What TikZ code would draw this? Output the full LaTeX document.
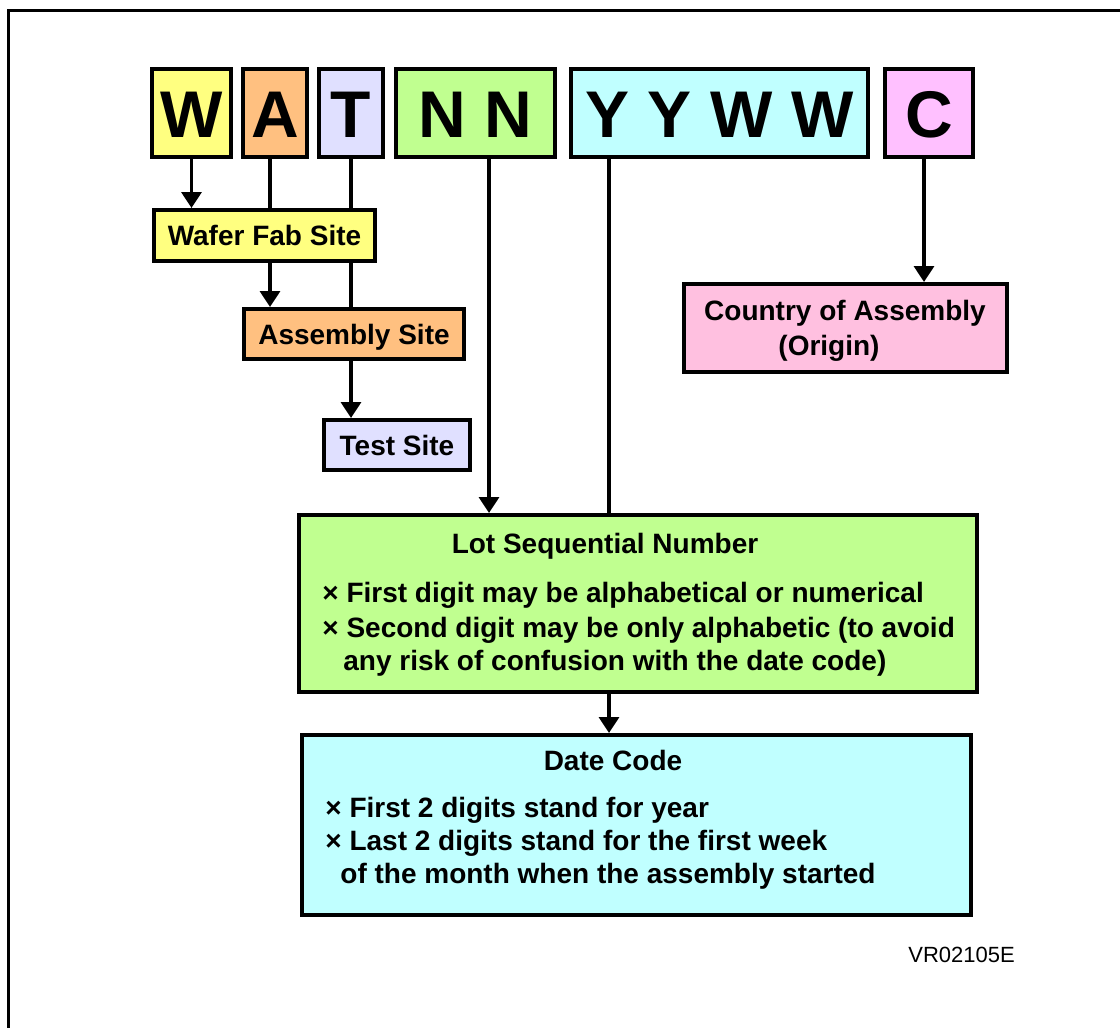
\documentclass[tikz,border=0pt]{standalone}
\usepackage{fontspec}
\setmainfont{Liberation Sans}
\usetikzlibrary{arrows.meta,backgrounds}

\definecolor{waferyellow}{RGB}{255,255,128}
\definecolor{assemorange}{RGB}{255,192,128}
\definecolor{testlilac}{RGB}{224,224,255}
\definecolor{lotgreen}{RGB}{192,255,144}
\definecolor{datecyan}{RGB}{192,255,255}
\definecolor{codepink}{RGB}{255,192,255}
\definecolor{originpink}{RGB}{255,192,224}

\tikzset{
  codebox/.style={draw, line width=2pt, inner sep=0pt, minimum height=44pt,
    text height=24pt, text depth=0pt, font=\fontsize{33}{37}\selectfont\bfseries},
  sitebox/.style={draw, line width=2pt, inner sep=0pt,
    text height=10pt, text depth=0pt, font=\fontsize{14}{17}\selectfont\bfseries},
  infobox/.style={draw, line width=2pt, inner sep=0pt},
  infotext/.style={inner sep=0pt, font=\fontsize{14}{17}\selectfont\bfseries},
  feed/.style={line width=1.7pt},
  feedarrow/.style={feed, -{Triangle[length=8pt,width=10pt]}}
}

\begin{document}
\begin{tikzpicture}[x=0.5pt, y=-0.5pt]
  \useasboundingbox (0,0) rectangle (1120,1028);

  % Frame
  \draw[line width=1.5pt] (8,1028) -- (8,10) -- (1120,10);

  % Marking code
  \node[codebox, fill=waferyellow, minimum width=39.5pt] (wcode) at (191.5,113) {W};
  \node[codebox, fill=assemorange, minimum width=32pt] (acode) at (275,113) {A};
  \node[codebox, fill=testlilac, minimum width=32pt] (tcode) at (351,113) {T};
  \node[codebox, fill=lotgreen, minimum width=79.5pt] (nncode) at (475.5,113) {N N};
  \node[codebox, fill=datecyan, minimum width=148.5pt] (yywwcode) at (719.5,113) {Y Y W W};
  \node[codebox, fill=codepink, minimum width=44pt] (ccode) at (929,113) {C};

  % Sites
  \node[sitebox, fill=waferyellow, minimum width=110.5pt, minimum height=25.5pt] (wafer) at (264.5,235.5) {Wafer Fab Site};
  \node[sitebox, fill=assemorange, minimum width=110pt, minimum height=25pt] (assembly) at (354,334) {Assembly Site};
  \node[sitebox, fill=testlilac, minimum width=73pt, minimum height=25pt] (test) at (397,445) {Test Site};

  % Country
  \node[infobox, fill=originpink, minimum width=161.5pt, minimum height=44pt] (country) at (845.5,328) {};
  \node[infotext, anchor=base] (countryA) at (845,320) {Country of Assembly};
  \node[infotext, anchor=base] (countryB) at (829,355) {(Origin)};

  % Lot number
  \node[infobox, fill=lotgreen, minimum width=339pt, minimum height=88.5pt] (lot) at (638,603.5) {};
  \node[infotext, anchor=base] (lottitle) at (605,553) {Lot Sequential Number};
  \node[infotext, anchor=base west] (lotA) at (322,602) {× First digit may be alphabetical or numerical};
  \node[infotext, anchor=base west] (lotB) at (322,637) {× Second digit may be only alphabetic (to avoid};
  \node[infotext, anchor=base west] (lotC) at (343,670) {any risk of confusion with the date code)};

  % Date code
  \node[infobox, fill=datecyan, minimum width=334.5pt, minimum height=90pt] (date) at (636.5,825) {};
  \node[infotext, anchor=base] (datetitle) at (613,770) {Date Code};
  \node[infotext, anchor=base west] (dateA) at (325,817) {× First 2 digits stand for year};
  \node[infotext, anchor=base west] (dateB) at (325,850) {× Last 2 digits stand for the first week};
  \node[infotext, anchor=base west] (dateC) at (340,883) {of the month when the assembly started};

  \node[inner sep=0pt, anchor=base west, font=\fontsize{11}{13}\selectfont] (figcode) at (908,962) {VR02105E};

  % Connectors
  \coordinate (afoot) at ([xshift=-2.5pt]acode.south);
  \coordinate (nnfoot) at ([xshift=6.75pt]nncode.south);
  \coordinate (yywwfoot) at ([xshift=-55.25pt]yywwcode.south);
  \coordinate (cfoot) at ([xshift=-2.5pt]ccode.south);
  \begin{scope}[on background layer]
    \draw[feedarrow] (wcode.south) -- (wcode.south |- wafer.north);
    \draw[feedarrow] (afoot) -- (afoot |- assembly.north);
    \draw[feedarrow] (tcode.south) -- (tcode.south |- test.north);
    \draw[feedarrow] (nnfoot) -- (nnfoot |- lot.north);
    \draw[feedarrow] (yywwfoot) -- (yywwfoot |- date.north);
    \draw[feedarrow] (cfoot) -- (cfoot |- country.north);
  \end{scope}
\end{tikzpicture}
\end{document}
